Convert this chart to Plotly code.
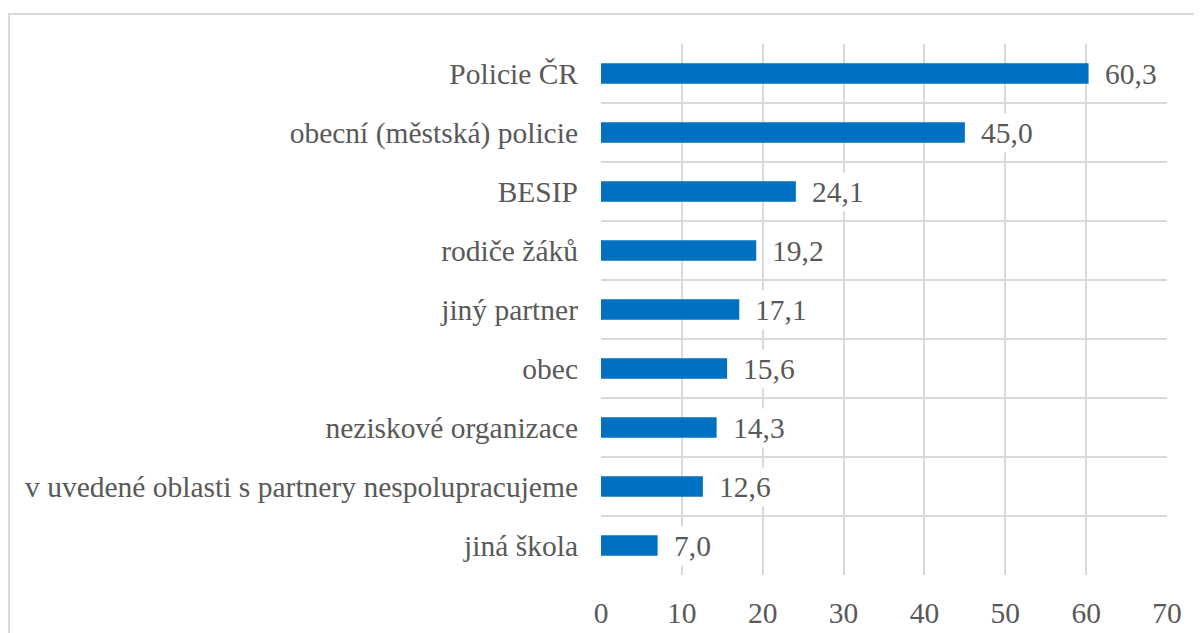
import plotly.graph_objects as go

categories = ["Policie ČR", "obecní (městská) policie", "BESIP", "rodiče žáků",
              "jiný partner", "obec", "neziskové organizace",
              "v uvedené oblasti s partnery nespolupracujeme", "jiná škola"]
values = [60.3, 45.0, 24.1, 19.2, 17.1, 15.6, 14.3, 12.6, 7.0]
x_ticks = [0, 10, 20, 30, 40, 50, 60, 70]

OFF = 8  # page body margin
W, H = 1202 - OFF, 633 - OFF
L, R, T, B = 601 - OFF, 1167 - OFF, 44 - OFF, 575 - OFF
FONT = "Liberation Serif, Times New Roman, serif"
TXT = "#595959"
GRID = "#d9d9d9"
FS = 29.5

fig = go.Figure()
fig.add_trace(go.Bar(
    x=values, y=categories, orientation="h",
    marker=dict(color="#0070c0", line=dict(width=0)),
    width=0.35, hoverinfo="skip",
))

for v, c in zip(values, categories):
    fig.add_annotation(
        x=v, y=c, xref="x", yref="y", text=f"{v:.1f}".replace(".", ","),
        showarrow=False, xanchor="left", yanchor="middle", xshift=12,
        bgcolor="white", borderpad=3,
        font=dict(family=FONT, size=FS, color=TXT),
    )

pw, ph = R - L, B - T
fig.add_shape(type="rect", xref="paper", yref="paper",
              x0=(1 - L) / pw, x1=(1230 - L) / pw,
              y0=(B - 6) / ph, y1=(B - 660) / ph,
              line=dict(color=GRID, width=2), fillcolor="rgba(0,0,0,0)",
              layer="below")

fig.update_layout(
    width=W, height=H,
    margin=dict(l=L, r=W - R, t=T, b=H - B, pad=0, autoexpand=False),
    paper_bgcolor="white", plot_bgcolor="white",
    showlegend=False,
    font=dict(family=FONT, size=FS, color=TXT),
    xaxis=dict(range=[0, 70], tickvals=x_ticks, ticktext=[str(t) for t in x_ticks],
               showgrid=True, gridcolor=GRID, gridwidth=1.5,
               zeroline=False, showline=False, ticks="",
               ticklabelstandoff=17,
               tickfont=dict(family=FONT, size=FS, color=TXT)),
    yaxis=dict(type="category", categoryorder="array", categoryarray=categories[::-1],
               tickson="boundaries", showgrid=True, gridcolor=GRID, gridwidth=1.5,
               zeroline=False, showline=False, ticks="",
               ticklabelstandoff=22,
               tickfont=dict(family=FONT, size=FS, color=TXT)),
)

fig.write_html("out.html")
